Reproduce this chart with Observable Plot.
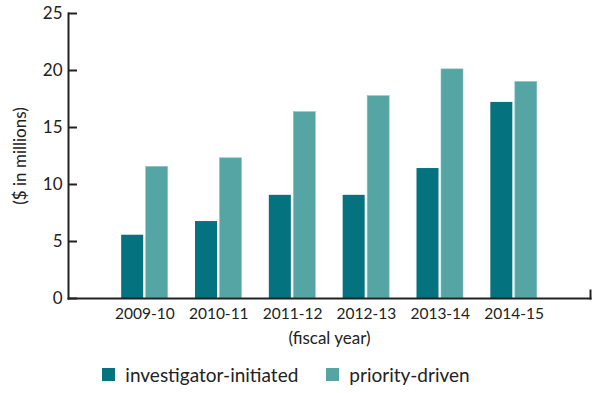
<!DOCTYPE html>
<html>
<head>
<meta charset="utf-8">
<script src="https://cdn.jsdelivr.net/npm/d3@7"></script>
<script src="https://cdn.jsdelivr.net/npm/@observablehq/plot@0.6"></script>
<style>
  body { margin: 0; background: #fff; font-family: Lato, "Open Sans", sans-serif; }
  #chart { width: 600px; }
  .legendwrap { display: flex; justify-content: center; margin-top: 8px; }
  .legendwrap [class$="-swatch"] { margin-right: 28px !important; }
  .legendwrap [class$="-swatch"] svg { margin-right: 10px !important; }
</style>
</head>
<body>
<div id="chart"></div>
<script>
const years = ["2009-10", "2010-11", "2011-12", "2012-13", "2013-14", "2014-15"];
const series = ["investigator-initiated", "priority-driven"];
const investigator = [5.55, 6.75, 9.05, 9.05, 11.4, 17.2];
const priority = [11.55, 12.3, 16.35, 17.75, 20.1, 19.0];
const colors = ["#04737f", "#55a5a5"];
const yTicks = [0, 5, 10, 15, 20, 25];
const xTitle = "(fiscal year)";
const yTitle = "($ in millions)";

const invData = years.map((yr, i) => ({year: yr, series: series[0], value: investigator[i]}));
const priData = years.map((yr, i) => ({year: yr, series: series[1], value: priority[i]}));

const ink = "#222";
const half = 24.5; // inset to split each year's band into two side-by-side bars

const plot = Plot.plot({
  width: 600,
  height: 350,
  marginLeft: 68,
  marginRight: 10,
  marginTop: 13,
  marginBottom: 52,
  style: {fontFamily: "Lato, 'Open Sans', sans-serif", fontSize: "17px", color: ink, background: "#fff"},
  x: {domain: years, paddingInner: 0.37, paddingOuter: 0.72, round: false, axis: null},
  y: {domain: [0, 25], axis: null},
  color: {domain: series, range: colors},
  marks: [
    Plot.barY(invData, {x: "year", y: "value", fill: "series", insetRight: half}),
    Plot.barY(priData, {x: "year", y: "value", fill: "series", insetLeft: half, stroke: "#8cc6c6", strokeWidth: 0.6}),
    Plot.frame({anchor: "left", stroke: ink, strokeWidth: 2}),
    Plot.frame({anchor: "bottom", stroke: ink, strokeWidth: 2}),
    Plot.frame({anchor: "right", insetTop: 277, stroke: ink, strokeWidth: 2}),
    Plot.axisY({
      anchor: "left", ticks: yTicks, tickSize: -9, tickPadding: 15,
      strokeWidth: 2, stroke: ink, fill: ink, fontSize: 17,
      label: yTitle, labelAnchor: "center", labelArrow: "none", labelOffset: 55
    }),
    Plot.axisX({
      anchor: "bottom", tickSize: 0, tickPadding: 9, fontSize: 15.5, fill: ink, label: null
    }),
    Plot.text([xTitle], {frameAnchor: "bottom", lineAnchor: "middle", dy: 40, fontSize: 17, fill: ink})
  ]
});

document.getElementById("chart").appendChild(plot);

const legend = Plot.legend({
  color: {domain: series, range: colors},
  swatchSize: 13,
  style: {fontSize: "19px", fontFamily: "Lato, 'Open Sans', sans-serif", color: ink}
});
const wrap = document.createElement("div");
wrap.className = "legendwrap";
wrap.appendChild(legend);
document.getElementById("chart").appendChild(wrap);
</script>
</body>
</html>
